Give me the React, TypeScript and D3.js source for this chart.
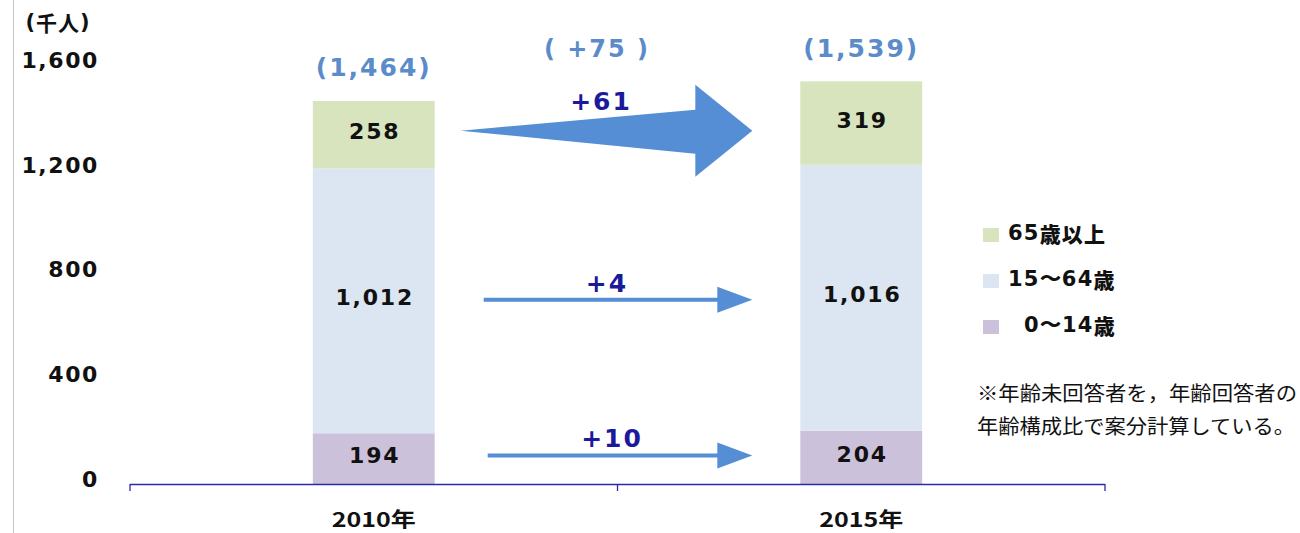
import React from "react";
import * as d3 from "d3";

const years = ["2010年", "2015年"];
const age0to14 = [194, 204];
const age15to64 = [1012, 1016];
const age65plus = [258, 319];
const totals = [1464, 1539];
const seriesNames = ["65歳以上", "15〜64歳", "0〜14歳"];
const seriesColors = ["#d7e4bd", "#dce6f2", "#ccc1da"];
const yTicks = [0, 400, 800, 1200, 1600];
const changes = [10, 4, 61]; // 0-14, 15-64, 65+
const totalChange = 75;
const noteLines = ["※年齢未回答者を，年齢回答者の", "年齢構成比で案分計算している。"];

const W = 1300;
const H = 533;
const NUM = "Verdana, 'DejaVu Sans', sans-serif";
const CJK = "'Noto Sans CJK JP', sans-serif";
const ARROW = "#558ed5";
const NAVY = "#1a1a9a";
const TOTAL = "#5b8bc9";

export default function App() {
  const y = d3.scaleLinear().domain([0, 1600]).range([484, 65.4]);
  const x = d3.scaleBand<string>().domain(years).range([130, 1105]).padding(0);
  const bw = x.bandwidth() * 0.25;

  const stackData = years.map((yr, i) => ({
    year: yr,
    a: age0to14[i],
    b: age15to64[i],
    c: age65plus[i],
  }));
  const stack = d3.stack<any>().keys(["a", "b", "c"]);
  const layers = stack(stackData);
  const layerColors = [seriesColors[2], seriesColors[1], seriesColors[0]];

  const cx = (i: number) => (x(years[i]) as number) + x.bandwidth() / 2;
  const right0 = cx(0) + bw / 2;
  const left1 = cx(1) - bw / 2;
  const tipX = left1 - 48;

  const mid = (li: number) => (y(layers[li][0][0]) + y(layers[li][0][1])) / 2;

  const bigC = mid(2) - 4;
  const bigTail = right0 + 26;
  const headBase = tipX - 57;
  const bigPath = [
    [bigTail, bigC],
    [headBase, bigC - 21],
    [headBase, bigC - 46],
    [tipX, bigC],
    [headBase, bigC + 46],
    [headBase, bigC + 23],
  ];
  const line = d3.line();

  const thinArrows = [
    { c: mid(1) - 1, start: right0 + 49, label: changes[1], lx: 607, ly: 283 },
    { c: mid(0) - 3, start: right0 + 53, label: changes[0], lx: 612, ly: 438 },
  ];

  return (
    <svg width={W} height={H} style={{ display: "block", position: "absolute", left: 0, top: 0 }}>
      <rect width={W} height={H} fill="#fff" />
      <line x1={13.5} x2={13.5} y1={0} y2={H} stroke="#c8c8c8" strokeWidth={1} />

      {/* unit */}
      <text x={58} y={22} textAnchor="middle" dominantBaseline="central" fontFamily={NUM} fontWeight="bold" fontSize={21} fill="#111" letterSpacing={1}>
        (<tspan fontFamily={CJK}>千人</tspan>)
      </text>

      {/* y tick labels */}
      {yTicks.map((t) => (
        <text key={t} x={99} y={y(t) - 5} textAnchor="end" dominantBaseline="central" fontFamily={NUM} fontWeight="bold" fontSize={22} fill="#111" letterSpacing={1.6}>
          {d3.format(",")(t)}
        </text>
      ))}

      {/* bars */}
      {layers.map((layer, li) =>
        layer.map((d, i) => (
          <rect key={`${li}-${i}`} x={cx(i) - bw / 2} y={y(d[1])} width={bw} height={y(d[0]) - y(d[1])} fill={layerColors[li]} />
        ))
      )}
      {layers.map((layer, li) =>
        layer.map((d, i) => (
          <text key={`t${li}-${i}`} x={cx(i) + 1} y={(y(d[0]) + y(d[1])) / 2 - 3} textAnchor="middle" dominantBaseline="central" fontFamily={NUM} fontWeight="bold" fontSize={22} fill="#111" letterSpacing={1.8}>
            {d3.format(",")(d[1] - d[0])}
          </text>
        ))
      )}

      {/* totals */}
      {totals.map((t, i) => (
        <text key={`tot${i}`} x={cx(i)} y={y(t) - 33} textAnchor="middle" dominantBaseline="central" fontFamily={NUM} fontWeight="bold" fontSize={25} fill={TOTAL} letterSpacing={2}>
          ({d3.format(",")(t)})
        </text>
      ))}

      {/* x axis */}
      <line x1={130} x2={1105} y1={484.5} y2={484.5} stroke="#2a2aaa" strokeWidth={1.3} />
      {[130, cx(0) + x.bandwidth() / 2, 1105].map((tx, i) => (
        <line key={`xt${i}`} x1={tx} x2={tx} y1={484} y2={491} stroke="#2a2aaa" strokeWidth={1.3} />
      ))}
      {years.map((yr, i) => (
        <text key={yr} x={cx(i)} y={518} textAnchor="middle" dominantBaseline="central" fontFamily={CJK} fontWeight="bold" fontSize={20} fill="#111" textLength={84} lengthAdjust="spacingAndGlyphs">
          {yr}
        </text>
      ))}

      {/* big arrow */}
      <path d={line(bigPath as [number, number][]) + "Z"} fill={ARROW} />
      <text x={601} y={101} textAnchor="middle" dominantBaseline="central" fontFamily={NUM} fontWeight="bold" fontSize={25} fill={NAVY} letterSpacing={2}>
        +{changes[2]}
      </text>
      <text x={597} y={49} textAnchor="middle" dominantBaseline="central" fontFamily={NUM} fontWeight="bold" fontSize={24} fill={TOTAL} xmlSpace="preserve" letterSpacing={2}>
        {`( +${totalChange} )`}
      </text>

      {/* thin arrows */}
      {thinArrows.map((a, i) => (
        <g key={`ar${i}`}>
          <line x1={a.start} x2={tipX - 34} y1={a.c} y2={a.c} stroke={ARROW} strokeWidth={4} />
          <path d={line([[tipX - 35, a.c - 13], [tipX, a.c], [tipX - 35, a.c + 13]] as [number, number][]) + "Z"} fill={ARROW} />
          <text x={a.lx} y={a.ly} textAnchor="middle" dominantBaseline="central" fontFamily={NUM} fontWeight="bold" fontSize={25} fill={NAVY} letterSpacing={2}>
            +{a.label}
          </text>
        </g>
      ))}

      {/* legend */}
      {seriesNames.map((n, i) => (
        <g key={n}>
          <rect x={983} y={228 + i * 46} width={16} height={14} fill={seriesColors[i]} />
          <text x={i === 2 ? 1024 : 1008} y={233 + i * 46} dominantBaseline="central" fontFamily={NUM} fontWeight="bold" fontSize={21} fill="#111" letterSpacing={1.2}>
            {n.split(/([^\x00-\x7f]+)/).map((part, k) =>
              /[^\x00-\x7f]/.test(part) && part !== "〜" ? (
                <tspan key={k} fontFamily={CJK} fontWeight={900}>{part}</tspan>
              ) : (
                <tspan key={k}>{part}</tspan>
              )
            )}
          </text>
        </g>
      ))}

      {/* note */}
      {noteLines.map((l, i) => (
        <text key={`n${i}`} x={977} y={392 + i * 33} dominantBaseline="central" fontFamily={CJK} fontSize={20} fill="#111" textLength={320 - i * 2} lengthAdjust="spacingAndGlyphs">
          {l}
        </text>
      ))}
    </svg>
  );
}
